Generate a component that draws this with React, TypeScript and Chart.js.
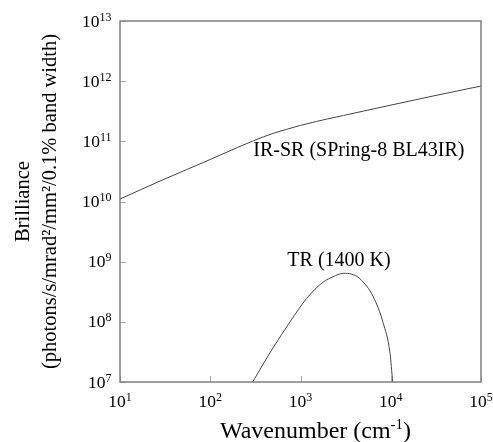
import React, { useEffect, useRef } from "react";
import { Chart, registerables } from "chart.js";

Chart.register(...registerables);

// ---- data ----
const irsrWavenumber = [10, 30, 100, 200, 300, 500, 700, 1000, 1500, 2000, 3000, 10000, 30000, 100000];
const irsrBrilliance = [1.1e10, 2.3e10, 5.0e10, 7.9e10, 1.02e11, 1.36e11, 1.58e11, 1.84e11, 2.14e11, 2.36e11, 2.69e11, 4.0e11, 5.7e11, 8.3e11];

const trWavenumber = [295, 400, 500, 766, 1170, 1790, 2290, 2980, 3700, 4560, 6410, 8260, 9820, 10500];
const trBrilliance = [1.0e7, 2.17e7, 3.76e7, 1.0e8, 2.45e8, 4.6e8, 5.6e8, 6.4e8, 6.2e8, 5.2e8, 2.6e8, 9.5e7, 3.0e7, 1.0e7];

const xTickValues = [1e1, 1e2, 1e3, 1e4, 1e5];
const xTickExponents = ["1", "2", "3", "4", "5"];
const yTickValues = [1e7, 1e8, 1e9, 1e10, 1e11, 1e12, 1e13];
const yTickExponents = ["7", "8", "9", "10", "11", "12", "13"];
const tickBase = "10";

const xTitleParts = ["Wavenumber (cm", "-1", ")"];
const yTitle = ["Brilliance", "(photons/s/mrad²/mm²/0.1% band width)"];

// annotation labels anchored in data space
const seriesLabels = ["IR-SR (SPring-8 BL43IR)", "TR (1400 K)"];
const labelAnchorX = [300, 2670];
const labelAnchorY = [5.7e10, 8.5e8];
const labelAlign: CanvasTextAlign[] = ["left", "center"];

const SERIF = "'Liberation Serif', 'Times New Roman', Times, serif";
const TICK_FONT = `17.5px ${SERIF}`;
const EXP_FONT = `12px ${SERIF}`;

const framePlugin = {
  id: "frameAndLabels",
  afterDatasetsDraw(chart: any) {
    const { ctx, chartArea: a, scales } = chart;
    const x = scales.x;
    const y = scales.y;
    ctx.save();
    // inward tick marks
    ctx.strokeStyle = "#aaaaaa";
    ctx.lineWidth = 1;
    ctx.beginPath();
    xTickValues.forEach((v) => {
      const px = Math.round(x.getPixelForValue(v)) + 0.5;
      ctx.moveTo(px, a.bottom);
      ctx.lineTo(px, a.bottom - 6);
    });
    yTickValues.forEach((v) => {
      const py = Math.round(y.getPixelForValue(v)) + 0.5;
      ctx.moveTo(a.left, py);
      ctx.lineTo(a.left + 6, py);
    });
    ctx.stroke();
    // frame
    ctx.strokeStyle = "#808080";
    ctx.lineWidth = 1.5;
    ctx.strokeRect(a.left, a.top, a.right - a.left, a.bottom - a.top);

    ctx.fillStyle = "#000";
    ctx.textBaseline = "alphabetic";
    ctx.textAlign = "left";
    // y tick labels: 10^n, right aligned
    yTickValues.forEach((v, i) => {
      const py = y.getPixelForValue(v);
      ctx.font = EXP_FONT;
      const we = ctx.measureText(yTickExponents[i]).width;
      ctx.font = TICK_FONT;
      const wb = ctx.measureText(tickBase).width;
      const right = a.left - 8.5;
      const base = py + 5.5;
      ctx.fillText(tickBase, right - we - wb, base);
      ctx.font = EXP_FONT;
      ctx.fillText(yTickExponents[i], right - we, base - 6);
    });
    // x tick labels: 10^n, centered
    xTickValues.forEach((v, i) => {
      const px = x.getPixelForValue(v);
      ctx.font = EXP_FONT;
      const we = ctx.measureText(xTickExponents[i]).width;
      ctx.font = TICK_FONT;
      const wb = ctx.measureText(tickBase).width;
      const left = px - (we + wb) / 2;
      const base = a.bottom + 25;
      ctx.fillText(tickBase, left, base);
      ctx.font = EXP_FONT;
      ctx.fillText(xTickExponents[i], left + wb, base - 6);
    });
    // x axis title with superscript
    {
      const mainFont = `24px ${SERIF}`;
      const supFont = `15px ${SERIF}`;
      ctx.font = mainFont;
      const w0 = ctx.measureText(xTitleParts[0]).width;
      const w2 = ctx.measureText(xTitleParts[2]).width;
      ctx.font = supFont;
      const w1 = ctx.measureText(xTitleParts[1]).width;
      const total = w0 + w1 + w2;
      const cx = (a.left + a.right) / 2 + 15;
      const base = a.bottom + 56;
      let sx = cx - total / 2;
      ctx.font = mainFont;
      ctx.fillText(xTitleParts[0], sx, base);
      sx += w0;
      ctx.font = supFont;
      ctx.fillText(xTitleParts[1], sx, base - 9);
      sx += w1;
      ctx.font = mainFont;
      ctx.fillText(xTitleParts[2], sx, base);
    }
    // series labels
    ctx.font = `20px ${SERIF}`;
    seriesLabels.forEach((s, i) => {
      ctx.textAlign = labelAlign[i];
      ctx.fillText(s, x.getPixelForValue(labelAnchorX[i]), y.getPixelForValue(labelAnchorY[i]));
    });
    ctx.restore();
  },
};

export default function App() {
  const ref = useRef<HTMLCanvasElement | null>(null);
  useEffect(() => {
    document.body.style.margin = "0";
    const canvas = ref.current;
    if (!canvas) return;
    const chart = new Chart(canvas, {
      type: "line",
      data: {
        datasets: [
          {
            label: seriesLabels[0],
            data: irsrWavenumber.map((v, i) => ({ x: v, y: irsrBrilliance[i] })),
            borderColor: "#444",
            borderWidth: 1,
            pointRadius: 0,
            cubicInterpolationMode: "monotone",
            fill: false,
          },
          {
            label: seriesLabels[1],
            data: trWavenumber.map((v, i) => ({ x: v, y: trBrilliance[i] })),
            borderColor: "#444",
            borderWidth: 1,
            pointRadius: 0,
            cubicInterpolationMode: "monotone",
            fill: false,
          },
        ],
      },
      options: {
        responsive: false,
        animation: false,
        layout: { padding: { top: 21, right: 12, left: 0, bottom: 0 } },
        plugins: { legend: { display: false }, tooltip: { enabled: false } },
        scales: {
          x: {
            type: "logarithmic",
            min: 10,
            max: 1e5,
            grid: { display: false, drawTicks: false },
            border: { display: false },
            afterBuildTicks: (scale: any) => {
              scale.ticks = xTickValues.map((v) => ({ value: v }));
            },
            afterFit: (scale: any) => {
              scale.height = 60;
            },
            ticks: { display: false },
            title: { display: false },
          },
          y: {
            type: "logarithmic",
            min: 1e7,
            max: 1e13,
            grid: { display: false, drawTicks: false },
            border: { display: false },
            afterBuildTicks: (scale: any) => {
              scale.ticks = yTickValues.map((v) => ({ value: v }));
            },
            afterFit: (scale: any) => {
              scale.width = 120;
            },
            ticks: { display: false },
            title: {
              display: true,
              text: yTitle,
              color: "#000",
              font: { family: SERIF, size: 20.5, lineHeight: 1.32 },
              padding: { top: 10, bottom: 0 },
            },
          },
        },
      },
      plugins: [framePlugin],
    } as any);
    return () => chart.destroy();
  }, []);
  return <canvas ref={ref} width={493} height={442} style={{ display: "block", width: 493, height: 442 }} />;
}
